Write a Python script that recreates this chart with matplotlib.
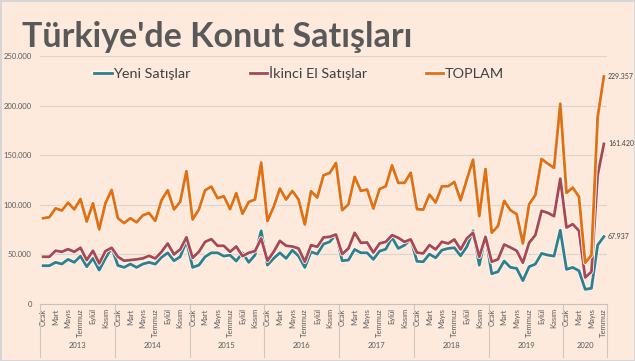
import matplotlib
matplotlib.use("Agg")
import matplotlib.pyplot as plt
import matplotlib.patheffects as pe
from matplotlib.ticker import FuncFormatter

# aylık konut satışları, Ocak 2013 - Temmuz 2020
yillar = ["2013", "2014", "2015", "2016", "2017", "2018", "2019", "2020"]
aylar = ["Ocak", "Şubat", "Mart", "Nisan", "Mayıs", "Haziran",
         "Temmuz", "Ağustos", "Eylül", "Ekim", "Kasım", "Aralık"]

yeni = [38600, 38600, 42000, 40300, 45000, 42000, 48300, 37600, 46000, 34200, 46000, 56700,
        38900, 36900, 40300, 36900, 40300, 42000, 40200, 47000, 51600, 43600, 47600, 63500,
        36900, 39200, 47600, 51600, 51600, 48300, 49300, 43300, 51600, 42000, 49300, 73800,
        39200, 46000, 51600, 46000, 54300, 48300, 36900, 52600, 50300, 60400, 62700, 70100,
        43600, 44300, 55000, 51600, 51600, 45000, 53300, 55300, 67100, 56000, 59300, 65100,
        43000, 42600, 50300, 46600, 54300, 56000, 56700, 48600, 57700, 73800, 39200, 68400,
        30500, 32500, 43300, 36900, 35900, 23500, 37600, 40200, 51000, 49300, 48300, 74400,
        34900, 36900, 33500, 14800, 15800, 59400, 67937]

ikinci_el = [47600, 47600, 53700, 52600, 55300, 52600, 56700, 44300, 53700, 40900, 53300, 56700,
             47600, 43600, 44300, 45000, 46000, 48600, 45900, 52600, 61000, 50000, 55000, 67200,
             46600, 52600, 62700, 65400, 58700, 58700, 52600, 58000, 48300, 51600, 53300, 66100,
             43600, 52600, 63700, 58700, 58000, 56000, 42600, 59300, 57700, 67100, 67700, 70100,
             50300, 56000, 71800, 61700, 62000, 51900, 61000, 62700, 69400, 66700, 62700, 65100,
             51800, 51000, 59400, 55000, 62700, 61000, 65100, 55000, 66100, 71800, 47600, 67700,
             42600, 45000, 60000, 57000, 53700, 41600, 61700, 69400, 93900, 91900, 88500, 126400,
             77100, 80500, 73800, 26800, 32500, 129800, 161420]

toplam = [86500, 87500, 96500, 94200, 102100, 95400, 105800, 83100, 101600, 75200, 101600, 115000,
          86500, 81500, 86500, 82300, 89400, 91700, 83800, 104600, 114700, 95300, 102900, 134000,
          85200, 95300, 114700, 118400, 106600, 108700, 95600, 111700, 90900, 102900, 105300, 142500,
          83600, 97900, 116400, 105300, 114000, 105300, 80100, 113700, 107300, 129800, 132100, 142200,
          94600, 100300, 128100, 114000, 115400, 96200, 115900, 118700, 139800, 122100, 122100, 132400,
          95600, 95200, 110300, 102300, 118700, 118700, 123100, 104600, 125400, 145500, 88500, 136100,
          71800, 78500, 104000, 94600, 90500, 61000, 100600, 109700, 146200, 141500, 137200, 201900,
          112000, 117400, 108000, 41600, 49300, 188400, 229357]

bg = "#FDEADD"
gri = "#595959"
plt.rcParams["font.family"] = ["Lato", "DejaVu Sans"]

fig = plt.figure(figsize=(6.35, 3.61), dpi=100, facecolor=bg)
fig.patch.set_edgecolor("#d6d6d6")
fig.patch.set_linewidth(1)
ax = fig.add_axes([40 / 635, 1 - 304 / 361, 567 / 635, 248 / 361])
ax.set_facecolor(bg)

x = list(range(len(toplam)))
kenar = [pe.Stroke(linewidth=3.2, foreground="#fff6ef"), pe.Normal()]
ax.plot(x, yeni, color="#2E7F8F", lw=2.0, label="Yeni Satışlar", path_effects=kenar, zorder=3)
ax.plot(x, ikinci_el, color="#A94752", lw=2.0, label="İkinci El Satışlar", path_effects=kenar, zorder=3)
ax.plot(x, toplam, color="#E26F12", lw=2.0, label="TOPLAM", path_effects=kenar, zorder=3)

ax.set_xlim(-0.5, len(toplam) - 0.5)
ax.set_ylim(0, 250000)
ax.set_yticks(range(0, 250001, 50000))
ax.yaxis.set_major_formatter(FuncFormatter(lambda v, p: f"{int(v):,}".replace(",", ".")))
ax.grid(axis="y", color="#dcd3cc", lw=0.8)
ax.set_axisbelow(True)
for s in ["top", "right", "left"]:
    ax.spines[s].set_visible(False)
ax.spines["bottom"].set_color("#c8c0ba")
ax.tick_params(axis="y", length=0, labelsize=5.5, labelcolor=gri, pad=6)

# ay etiketleri (her iki ayda bir)
etiket_x = [i for i in x if i % 2 == 0]
etiketler = [aylar[i % 12] for i in etiket_x]
ax.set_xticks(etiket_x)
ax.set_xticklabels(etiketler, rotation=90, fontsize=5.5, color=gri)
ax.tick_params(axis="x", length=0, pad=3)

# yıl etiketleri ve ayırıcılar
for k, yil in enumerate(yillar):
    bas = k * 12 - 0.5
    son = min(bas + 12, len(toplam) - 0.5)
    ax.plot([bas, bas], [0, -0.215], transform=ax.get_xaxis_transform(),
            color="#cfc6bf", lw=0.8, clip_on=False)
    ax.text((bas + son) / 2, -0.168, yil, transform=ax.get_xaxis_transform(),
            ha="center", va="center", fontsize=5.5, color=gri)
ax.plot([len(toplam) - 0.5] * 2, [0, -0.215], transform=ax.get_xaxis_transform(),
        color="#cfc6bf", lw=0.8, clip_on=False)

# son değer etiketleri
for seri in [toplam, ikinci_el, yeni]:
    ax.annotate(f"{seri[-1]:,}".replace(",", "."), (x[-1], seri[-1]), xytext=(3, 0),
                textcoords="offset points", va="center", fontsize=5, color="#404040",
                annotation_clip=False)

ax.legend(loc="center", bbox_to_anchor=(0.457, 0.93), ncol=3, frameon=False,
          fontsize=10.4, handlelength=1.2, handletextpad=0.1, columnspacing=4.1,
          labelcolor="#404040")

fig.text(22 / 635, 1 - 47 / 361, "Türkiye'de Konut Satışları", fontsize=24.5,
         fontweight="bold", color=gri, va="baseline", ha="left")

fig.savefig("out.png", dpi=100, facecolor=bg, edgecolor=fig.patch.get_edgecolor())
